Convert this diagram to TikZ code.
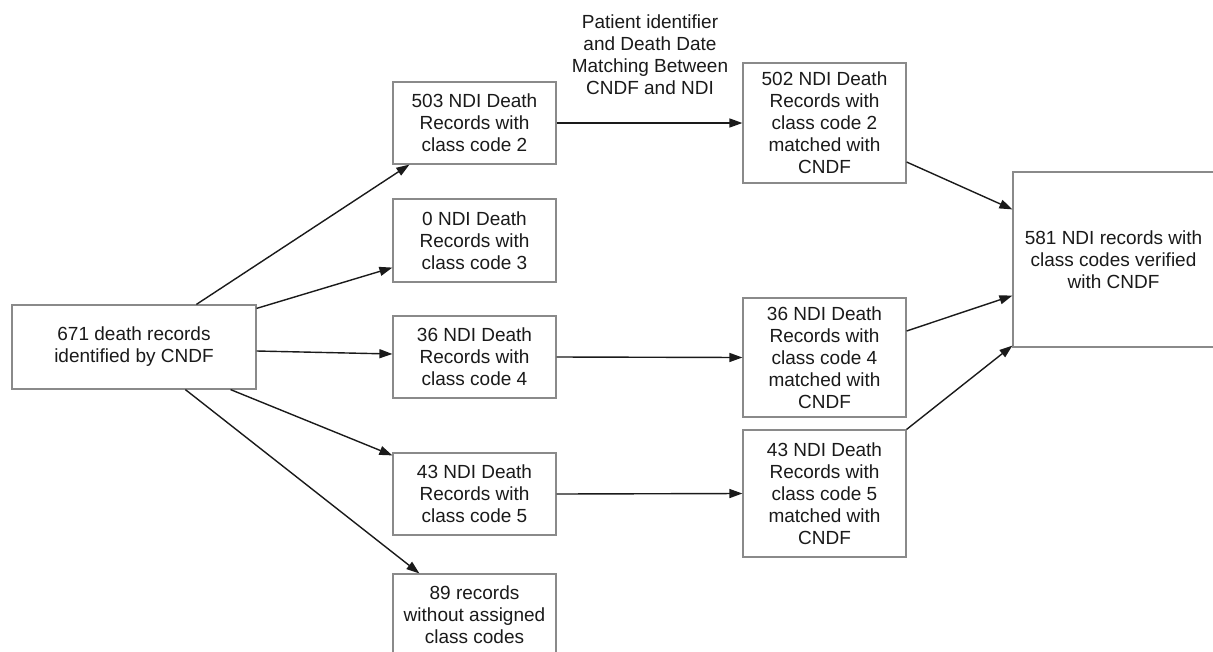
\documentclass[tikz,border=0pt]{standalone}
\usepackage{fontspec}
\setmainfont{Liberation Sans}
\usetikzlibrary{arrows.meta}
\definecolor{boxgray}{HTML}{8A8A8A}
\definecolor{ink}{HTML}{1A1A1A}
\tikzset{
  recbox/.style={draw=boxgray, line width=1.2pt, fill=white, rectangle, align=center,
    inner sep=0pt, text=ink, font=\fontsize{19}{22}\selectfont},
  conn/.style={draw=ink, line width=1.4pt, -{Triangle[length=13pt,width=9pt]}},
  lbl/.style={align=center, text=ink, font=\fontsize{19}{22}\selectfont}
}
\begin{document}
\begin{tikzpicture}[x=1pt,y=-1pt]
\useasboundingbox (0,0) rectangle (1213,651);
\fill[white] (0,0) rectangle (1213,651);
\node[recbox, minimum width=244pt, minimum height=84pt] (L) at (134,347) {671 death records\\identified by CNDF};
\node[recbox, minimum width=163pt, minimum height=82pt] (M2) at (474.5,123) {503 NDI Death\\Records with\\class code 2};
\node[recbox, minimum width=163pt, minimum height=83pt] (M3) at (474.5,240.5) {0 NDI Death\\Records with\\class code 3};
\node[recbox, minimum width=163pt, minimum height=82pt] (M4) at (474.5,357) {36 NDI Death\\Records with\\class code 4};
\node[recbox, minimum width=163pt, minimum height=82pt] (M5) at (474.5,494) {43 NDI Death\\Records with\\class code 5};
\node[recbox, minimum width=163pt, minimum height=82pt] (M9) at (474.5,615) {89 records\\without assigned\\class codes};
\node[recbox, minimum width=163pt, minimum height=120pt] (R2) at (824.5,123) {502 NDI Death\\Records with\\class code 2\\matched with\\CNDF};
\node[recbox, minimum width=163pt, minimum height=119pt] (R4) at (824.5,357.5) {36 NDI Death\\Records with\\class code 4\\matched with\\CNDF};
\node[recbox, minimum width=163pt, minimum height=127pt] (R5) at (824.5,493.5) {43 NDI Death\\Records with\\class code 5\\matched with\\CNDF};
\node[recbox, minimum width=201pt, minimum height=175pt] (F) at (1113.5,259.5) {581 NDI records with\\class codes verified\\with CNDF};
\node[lbl] (T) at (650,55) {Patient identifier\\and Death Date\\Matching Between\\CNDF and NDI};
\draw[conn] ([xshift=185pt]L.north west) -- ([xshift=17pt]M2.south west);
\draw[conn] ([yshift=-4pt]L.north east) -- ([yshift=15pt]M3.south west);
\draw[conn] ([yshift=-4pt]L.east) -- ([yshift=3pt]M4.west);
\draw[conn] ([xshift=-26pt]L.south east) -- ([yshift=-3pt]M5.north west);
\draw[conn] ([xshift=174pt]L.south west) -- ([xshift=27pt]M9.north west);
\draw[conn] (M2.east) -- (R2.west);
\draw[conn] (M4.east) -- (R4.west);
\draw[conn] (M5.east) -- (R5.west);
\draw[conn] ([yshift=-39pt]R2.east) -- ([yshift=-38pt]F.north west);
\draw[conn] ([yshift=26.5pt]R4.east) -- ([yshift=52pt]F.south west);
\draw[conn] (R5.north east) -- ([yshift=2pt]F.south west);
\end{tikzpicture}
\end{document}
